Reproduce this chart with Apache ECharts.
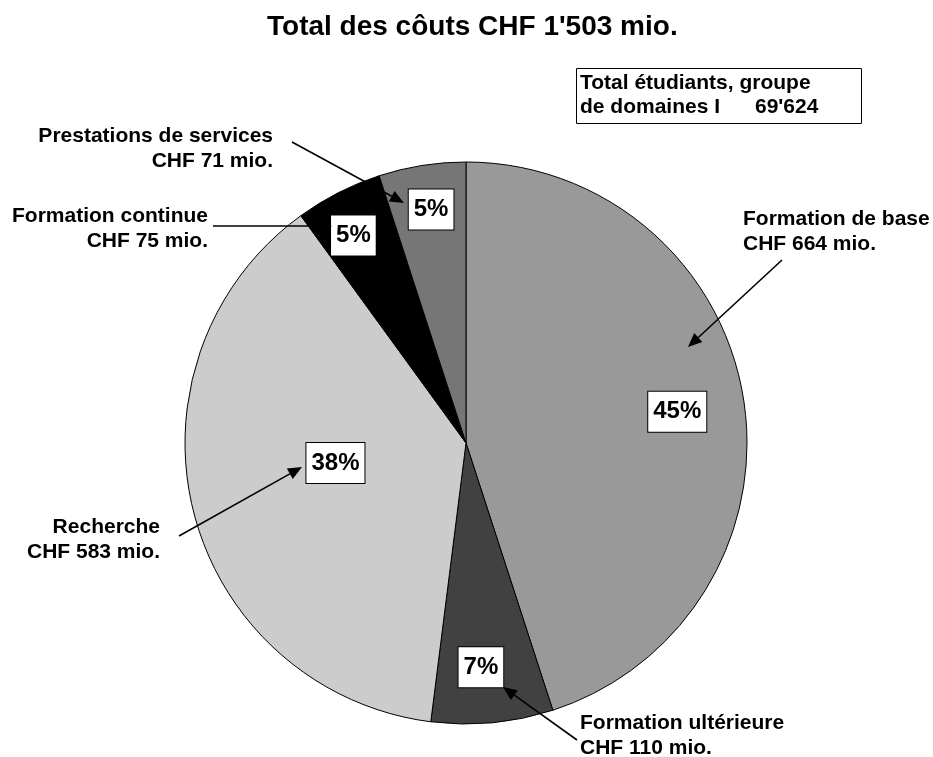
<!DOCTYPE html>
<html>
<head>
<meta charset="utf-8">
<script src="https://cdn.jsdelivr.net/npm/echarts@6/dist/echarts.min.js"></script>
<style>
  html, body { margin: 0; padding: 0; background: #fff; }
  #chart { width: 933px; height: 757px; }
</style>
</head>
<body>
<div id="chart"></div>
<script>
// ---- data ----
const categories = ['Formation de base', 'Formation ultérieure', 'Recherche', 'Formation continue', 'Prestations de services'];
const sharesPct = [45, 7, 38, 5, 5];
const costsMio = [664, 110, 583, 75, 71];
const totalCostMio = 1503;
const totalStudents = 69624;
const studentsLabel = ['Total étudiants, groupe', 'de domaines I'];

// ---- layout / style (not data) ----
const FONT = '"Liberation Sans", Arial, Helvetica, sans-serif';
const CX = 466, CY = 443, R = 281;
const sliceColors = ['#999999', '#414141', '#cccccc', '#000000', '#767676'];
const pctRadius = [0.76, 0.80, 0.47, 0.84, 0.84];
const pctNudgeDeg = [0.6, 1.6, 5.7, -1.5, 0.5];
// outer label anchors: [x, y, align]
const outerLabelAt = [
  [743, 232, 'left'],
  [580, 736, 'left'],
  [160, 540, 'right'],
  [208, 229, 'right'],
  [273, 149, 'right']
];
// arrows: [x1, y1, x2(tip), y2(tip)]
const arrowPaths = [
  [782, 260, 688, 347],
  [577, 740, 503, 687],
  [179, 536, 302, 467],
  [213, 226, 332, 226],
  [292, 142, 404, 203]
];

function swissFmt(n) {
  return String(n).replace(/\B(?=(\d{3})+(?!\d))/g, "'");
}

const sumShares = sharesPct.reduce((a, b) => a + b, 0);
const midDeg = [];
(function () {
  let acc = 0;
  sharesPct.forEach(v => {
    const span = v / sumShares * 360;
    midDeg.push(acc + span / 2);
    acc += span;
  });
})();

function arrowEls(x1, y1, x2, y2) {
  const ang = Math.atan2(y2 - y1, x2 - x1);
  const L = 14, W = 6;
  const bx = x2 - L * Math.cos(ang), by = y2 - L * Math.sin(ang);
  const px = -Math.sin(ang) * W, py = Math.cos(ang) * W;
  return [
    { type: 'line', z: 100, silent: true, shape: { x1: x1, y1: y1, x2: bx, y2: by }, style: { stroke: '#000', lineWidth: 1.6 } },
    { type: 'polygon', z: 100, silent: true, shape: { points: [[x2, y2], [bx + px, by + py], [bx - px, by - py]] }, style: { fill: '#000' } }
  ];
}

const graphics = [];
arrowPaths.forEach(a => arrowEls(a[0], a[1], a[2], a[3]).forEach(e => graphics.push(e)));
graphics.push({ type: 'rect', z: 100, silent: true, shape: { x: 576.5, y: 68.5, width: 285, height: 55 }, style: { fill: '#fff', stroke: '#000', lineWidth: 1 } });
graphics.push({ type: 'text', z: 101, silent: true, style: { text: studentsLabel[0], x: 580, y: 83, font: 'bold 21px ' + FONT, fill: '#000', textAlign: 'left', textVerticalAlign: 'middle' } });
graphics.push({ type: 'text', z: 101, silent: true, style: { text: studentsLabel[1], x: 580, y: 107, font: 'bold 21px ' + FONT, fill: '#000', textAlign: 'left', textVerticalAlign: 'middle' } });
graphics.push({ type: 'text', z: 101, silent: true, style: { text: swissFmt(totalStudents), x: 755, y: 107, font: 'bold 21px ' + FONT, fill: '#000', textAlign: 'left', textVerticalAlign: 'middle' } });

const pieData = categories.map((c, i) => ({ name: c, value: sharesPct[i], itemStyle: { color: sliceColors[i] } }));

const chart = echarts.init(document.getElementById('chart'), null, { renderer: 'canvas' });
chart.setOption({
  animation: false,
  backgroundColor: '#fff',
  title: {
    text: 'Total des côuts CHF ' + swissFmt(totalCostMio) + ' mio.',
    left: 267,
    top: 13,
    padding: 0,
    textStyle: { fontFamily: FONT, fontWeight: 'bold', fontSize: 28, color: '#000' }
  },
  graphic: { elements: graphics },
  series: [
    {
      type: 'pie',
      center: [CX, CY],
      radius: R,
      startAngle: 90,
      clockwise: true,
      avoidLabelOverlap: false,
      silent: true,
      itemStyle: { borderColor: '#000', borderWidth: 1 },
      emphasis: { disabled: true },
      label: {
        show: true,
        position: 'inside',
        formatter: p => p.value + '%',
        fontFamily: FONT,
        fontWeight: 'bold',
        fontSize: 24,
        lineHeight: 28,
        color: '#000',
        backgroundColor: '#fff',
        borderColor: '#000',
        borderWidth: 1,
        padding: [6, 5, 6, 5]
      },
      labelLine: { show: false },
      labelLayout: function (p) {
        const i = p.dataIndex;
        const a = (midDeg[i] + pctNudgeDeg[i]) * Math.PI / 180;
        const r = R * pctRadius[i];
        return { x: CX + r * Math.sin(a), y: CY - r * Math.cos(a), align: 'center', verticalAlign: 'middle' };
      },
      data: pieData
    },
    {
      type: 'pie',
      center: [CX, CY],
      radius: R,
      startAngle: 90,
      clockwise: true,
      avoidLabelOverlap: false,
      silent: true,
      z: 3,
      itemStyle: { color: 'rgba(0,0,0,0)', borderWidth: 0 },
      emphasis: { disabled: true },
      label: {
        show: true,
        position: 'outside',
        formatter: p => categories[p.dataIndex] + '\nCHF ' + costsMio[p.dataIndex] + ' mio.',
        fontFamily: FONT,
        fontWeight: 'bold',
        fontSize: 21,
        lineHeight: 25,
        color: '#000'
      },
      labelLine: { show: false },
      labelLayout: function (p) {
        const o = outerLabelAt[p.dataIndex];
        return { x: o[0], y: o[1], align: o[2], verticalAlign: 'middle' };
      },
      data: categories.map((c, i) => ({ name: c, value: sharesPct[i] }))
    }
  ]
});
</script>
</body>
</html>
